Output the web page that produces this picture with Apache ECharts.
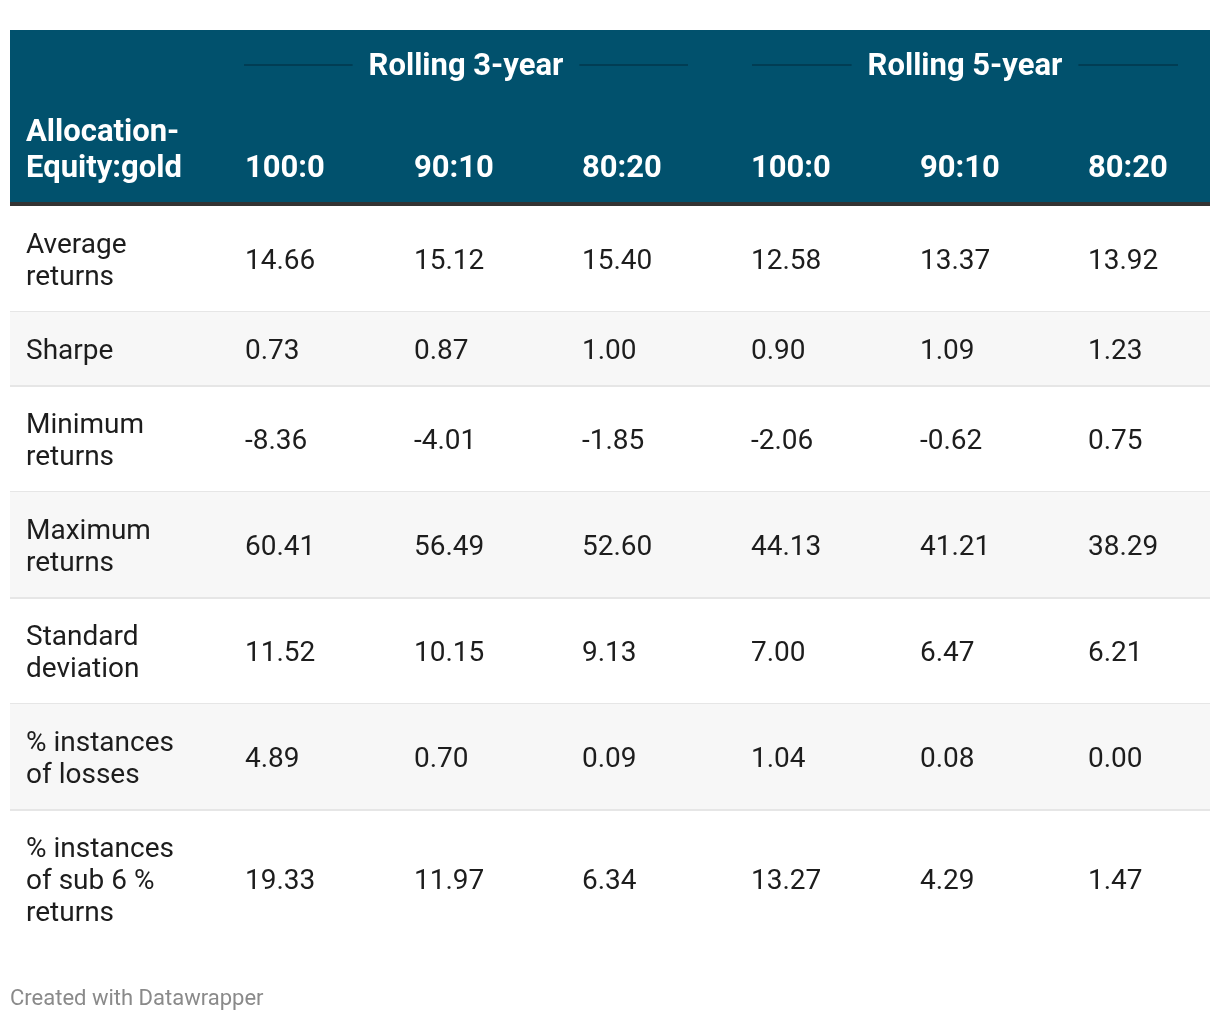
<!DOCTYPE html>
<html>
<head>
<meta charset="utf-8">
<script src="https://cdn.jsdelivr.net/npm/echarts@6/dist/echarts.min.js"></script>
<style>
html,body{margin:0;padding:0;background:#fff;}
#chart{width:1220px;height:1022px;}
</style>
</head>
<body>
<div id="chart"></div>
<script>
// ---- data ----
const groupLabels = ['Rolling 3-year', 'Rolling 5-year'];
const ratioLabels = ['100:0', '90:10', '80:20', '100:0', '90:10', '80:20'];
const firstHeader = ['Allocation-', 'Equity:gold'];
const rowLabels = [
  ['Average', 'returns'],
  ['Sharpe'],
  ['Minimum', 'returns'],
  ['Maximum', 'returns'],
  ['Standard', 'deviation'],
  ['% instances', 'of losses'],
  ['% instances', 'of sub 6 %', 'returns']
];
const rolling3_100 = [14.66, 0.73, -8.36, 60.41, 11.52, 4.89, 19.33];
const rolling3_90  = [15.12, 0.87, -4.01, 56.49, 10.15, 0.70, 11.97];
const rolling3_80  = [15.40, 1.00, -1.85, 52.60, 9.13, 0.09, 6.34];
const rolling5_100 = [12.58, 0.90, -2.06, 44.13, 7.00, 1.04, 13.27];
const rolling5_90  = [13.37, 1.09, -0.62, 41.21, 6.47, 0.08, 4.29];
const rolling5_80  = [13.92, 1.23, 0.75, 38.29, 6.21, 0.00, 1.47];
const footerText = 'Created with Datawrapper';

// ---- layout / style ----
const columns = [rolling3_100, rolling3_90, rolling3_80, rolling5_100, rolling5_90, rolling5_80];
const FONT = 'Roboto, "Noto Sans", sans-serif';
const HEADER_BG = '#01516d';
const HEADER_RULE = '#013d54';
const colX = [16, 235, 404, 572, 741, 910, 1078];   // text left in table units
const groupSpan = [[234, 678], [742, 1168]];
const headerH = 172, headerBand = 4;
const bodyFont = 28, headFont = 31, lineH = 32, dy = 2.5;
const rowH = rowLabels.map(l => 42 + lineH * l.length);
const rowTop = [];
{ let y = headerH + headerBand; rowH.forEach(h => { rowTop.push(y); y += h; }); }

const measure = (txt, size, weight) => {
  const c = document.createElement('canvas').getContext('2d');
  c.font = weight + ' ' + size + 'px ' + FONT;
  return c.measureText(txt).width;
};

function renderHeader(params, api) {
  const p0 = api.coord([0, 0]);
  const p1 = api.coord([1200, headerH]);
  const p2 = api.coord([1200, headerH + headerBand]);
  const children = [
    { type: 'rect', shape: { x: p0[0], y: p0[1], width: p1[0] - p0[0], height: p1[1] - p0[1] }, style: { fill: HEADER_BG } },
    { type: 'rect', shape: { x: p0[0], y: p1[1], width: p1[0] - p0[0], height: p2[1] - p1[1] }, style: { fill: '#333333' } }
  ];
  groupLabels.forEach((g, i) => {
    const a = api.coord([groupSpan[i][0], 35]);
    const b = api.coord([groupSpan[i][1], 35]);
    const cx = (a[0] + b[0]) / 2;
    const w = measure(g, headFont, 'bold');
    const gap = 16;
    children.push({ type: 'line', shape: { x1: a[0], y1: a[1], x2: cx - w / 2 - gap, y2: a[1] }, style: { stroke: HEADER_RULE, lineWidth: 2 } });
    children.push({ type: 'line', shape: { x1: cx + w / 2 + gap, y1: a[1], x2: b[0], y2: a[1] }, style: { stroke: HEADER_RULE, lineWidth: 2 } });
    children.push({ type: 'text', style: { text: g, x: cx, y: a[1] + dy, align: 'center', verticalAlign: 'middle', fill: '#ffffff', fontFamily: FONT, fontWeight: 'bold', fontSize: headFont } });
  });
  const h1 = api.coord([colX[0], 101]);
  const h2 = api.coord([colX[0], 137]);
  children.push({ type: 'text', style: { text: firstHeader[0], x: h1[0], y: h1[1] + dy, align: 'left', verticalAlign: 'middle', fill: '#ffffff', fontFamily: FONT, fontWeight: 'bold', fontSize: headFont } });
  children.push({ type: 'text', style: { text: firstHeader[1], x: h2[0], y: h2[1] + dy, align: 'left', verticalAlign: 'middle', fill: '#ffffff', fontFamily: FONT, fontWeight: 'bold', fontSize: headFont } });
  ratioLabels.forEach((r, i) => {
    const p = api.coord([colX[i + 1], 137]);
    children.push({ type: 'text', style: { text: r, x: p[0], y: p[1] + dy, align: 'left', verticalAlign: 'middle', fill: '#ffffff', fontFamily: FONT, fontWeight: 'bold', fontSize: headFont } });
  });
  return { type: 'group', children };
}

function renderRow(params, api) {
  const i = api.value(0);
  const top = rowTop[i], h = rowH[i];
  const p0 = api.coord([0, top]);
  const p1 = api.coord([1200, top + h]);
  const mid = api.coord([0, top + h / 2])[1] + dy;
  const children = [];
  if (i % 2 === 1) {
    children.push({ type: 'rect', shape: { x: p0[0], y: p0[1], width: p1[0] - p0[0], height: p1[1] - p0[1] }, style: { fill: '#f7f7f7' } });
  }
  if (i < rowLabels.length - 1) {
    children.push({ type: 'line', shape: { x1: p0[0], y1: p1[1], x2: p1[0], y2: p1[1] }, style: { stroke: '#e6e6e6', lineWidth: 2 } });
  }
  const lx = api.coord([colX[0], 0])[0];
  children.push({ type: 'text', style: { text: rowLabels[i].join('\n'), x: lx, y: mid, align: 'left', verticalAlign: 'middle', lineHeight: lineH, fill: '#1d1d1d', fontFamily: FONT, fontSize: bodyFont } });
  columns.forEach((col, c) => {
    const x = api.coord([colX[c + 1], 0])[0];
    children.push({ type: 'text', style: { text: col[i].toFixed(2), x: x, y: mid, align: 'left', verticalAlign: 'middle', fill: '#1d1d1d', fontFamily: FONT, fontSize: bodyFont } });
  });
  return { type: 'group', children };
}

const chart = echarts.init(document.getElementById('chart'), null, { renderer: 'canvas' });
chart.setOption({
  animation: false,
  backgroundColor: '#ffffff',
  grid: { left: 10, right: 10, top: 30, bottom: 0 },
  xAxis: { type: 'value', min: 0, max: 1200, show: false },
  yAxis: { type: 'value', min: 0, max: 992, inverse: true, show: false },
  graphic: [{ type: 'text', left: 10, top: 988, style: { text: footerText, fill: '#8a8a8a', fontFamily: FONT, fontSize: 22 } }],
  series: [
    { type: 'custom', renderItem: renderHeader, data: [[0]], silent: true },
    { type: 'custom', renderItem: renderRow, data: rowLabels.map((_, i) => [i]), silent: true }
  ]
});
</script>
</body>
</html>
